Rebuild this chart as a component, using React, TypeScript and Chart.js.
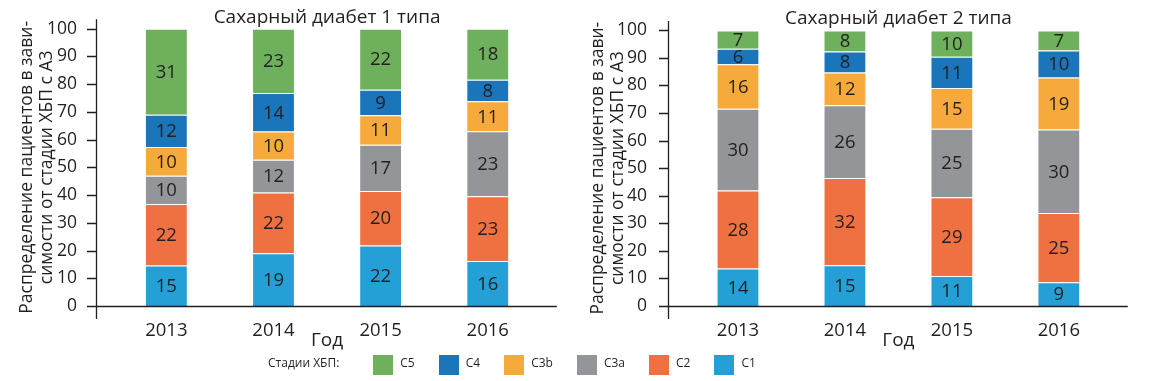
import React, { useEffect, useRef } from 'react';
import { Chart, registerables } from 'chart.js';

Chart.register(...registerables);

// ---------- data ----------
const years = ['2013', '2014', '2015', '2016'];
const stages = ['C1', 'C2', 'C3a', 'C3b', 'C4', 'C5'];
const stageColors = ['#24A0D6', '#EF7142', '#939598', '#F6AA3B', '#1B75BB', '#6EB05B'];

const title1 = 'Сахарный диабет 1 типа';
const title2 = 'Сахарный диабет 2 типа';
const yTitle = ['Распределение пациентов в зави-', 'симости от стадии ХБП с А3'];
const xTitle = 'Год';
const legendTitle = 'Стадии ХБП:';

// Type 1 diabetes, share (%) per stage, bottom to top
const t1C1 = [14.6, 19.0, 21.8, 16.2];
const t1C2 = [22.2, 21.9, 19.7, 23.4];
const t1C3a = [10.2, 11.8, 16.6, 23.4];
const t1C3b = [10.3, 10.2, 10.7, 10.8];
const t1C4 = [11.7, 13.9, 9.2, 7.8];
const t1C5 = [31.0, 23.2, 22.0, 18.4];

// Type 2 diabetes
const t2C1 = [13.6, 14.8, 10.9, 8.6];
const t2C2 = [28.3, 31.6, 28.6, 25.1];
const t2C3a = [29.7, 26.4, 24.8, 30.3];
const t2C3b = [16.1, 11.9, 14.8, 18.9];
const t2C4 = [5.6, 7.6, 11.3, 9.8];
const t2C5 = [6.7, 7.7, 9.6, 7.3];

const yTickValues = { min: 0, max: 100, step: 10 };

// ---------- styling ----------
const FONT = '"Open Sans", "Noto Sans", sans-serif';
const INK = '#231F20';

const axisPlugin = {
  id: 'axisLines',
  afterDatasetsDraw(chart: any) {
    const { ctx, chartArea, scales } = chart;
    const y = scales.y;
    const ax = Math.round(chartArea.left - 16.5) + 0.5;
    const by = Math.round(chartArea.bottom) + 0.5;
    ctx.save();
    ctx.strokeStyle = INK;
    ctx.lineWidth = 1.3;
    ctx.beginPath();
    ctx.moveTo(ax, chartArea.top - 9.5);
    ctx.lineTo(ax, chartArea.bottom + 13);
    ctx.moveTo(ax, by);
    ctx.lineTo(chartArea.right + 15.5, by);
    y.ticks.forEach((t: any) => {
      const py = Math.round(y.getPixelForValue(t.value)) + 0.5;
      ctx.moveTo(ax - 9.5, py);
      ctx.lineTo(ax, py);
    });
    ctx.stroke();
    ctx.restore();
  },
};

const valueLabelPlugin = {
  id: 'valueLabels',
  afterDatasetsDraw(chart: any) {
    const { ctx } = chart;
    ctx.save();
    ctx.font = `18.5px ${FONT}`;
    ctx.fillStyle = INK;
    ctx.textAlign = 'center';
    ctx.textBaseline = 'middle';
    chart.data.datasets.forEach((ds: any, i: number) => {
      const meta = chart.getDatasetMeta(i);
      meta.data.forEach((el: any, j: number) => {
        const v = ds.data[j];
        const { x, y, base } = el.getProps(['x', 'y', 'base'], true);
        ctx.fillText(String(Math.round(v)), x, (y + base) / 2 + 1);
      });
    });
    ctx.restore();
  },
};

type Geo = { yWidth: number; padRight: number; tickPad: number; yTitlePad: number };

function makeChart(canvas: HTMLCanvasElement, title: string, series: number[][], geo: Geo) {
  return new Chart(canvas, {
    type: 'bar',
    data: {
      labels: years,
      datasets: series.map((d, i) => ({
        label: stages[i],
        data: d,
        backgroundColor: stageColors[i],
        borderColor: 'rgba(255,255,255,0.35)',
        borderWidth: 1,
        barPercentage: 0.4,
        categoryPercentage: 1.0,
      })),
    },
    options: {
      responsive: false,
      animation: false,
      devicePixelRatio: 1,
      layout: { padding: { left: 0, right: geo.padRight, top: 0, bottom: 0 } },
      plugins: {
        legend: { display: false },
        tooltip: { enabled: false },
        title: {
          display: true,
          text: title,
          fullSize: false,
          color: INK,
          font: { family: FONT, size: 19, weight: 'normal', lineHeight: 1.2 },
          padding: { top: 5, bottom: 0 },
        },
      },
      scales: {
        x: {
          stacked: true,
          grid: { display: false },
          border: { display: false },
          ticks: { color: INK, font: { family: FONT, size: 18.5, lineHeight: 1.2 }, padding: 5.5 },
          title: {
            display: true,
            text: xTitle,
            color: INK,
            font: { family: FONT, size: 19, lineHeight: 1.2 },
            padding: { top: 0, bottom: 7.6 },
          },
          afterFit: (s: any) => {
            s.height = 54;
          },
        },
        y: {
          stacked: true,
          min: yTickValues.min,
          max: yTickValues.max,
          grid: { display: false },
          border: { display: false },
          ticks: {
            stepSize: yTickValues.step,
            color: INK,
            font: { family: FONT, size: 17.5, lineHeight: 0.1 },
            padding: geo.tickPad,
          },
          title: {
            display: true,
            text: yTitle,
            color: INK,
            font: { family: FONT, size: 17.5, lineHeight: 20 / 17.5 },
            padding: { top: geo.yTitlePad, bottom: 0 },
          },
          afterFit: (s: any) => {
            s.width = geo.yWidth;
          },
        },
      },
    },
    plugins: [axisPlugin, valueLabelPlugin],
  } as any);
}

export default function App() {
  const ref1 = useRef<HTMLCanvasElement>(null);
  const ref2 = useRef<HTMLCanvasElement>(null);

  useEffect(() => {
    const c1 = makeChart(ref1.current!, title1, [t1C1, t1C2, t1C3a, t1C3b, t1C4, t1C5], {
      yWidth: 112.8,
      padRight: 33.7,
      tickPad: 27.8,
      yTitlePad: 17.5,
    });
    const c2 = makeChart(ref2.current!, title2, [t2C1, t2C2, t2C3a, t2C3b, t2C4, t2C5], {
      yWidth: 109.5,
      padRight: 63.7,
      tickPad: 29.5,
      yTitlePad: 12.8,
    });
    return () => {
      c1.destroy();
      c2.destroy();
    };
  }, []);

  const legendOrder = [5, 4, 3, 2, 1, 0];

  return (
    <div
      style={{
        position: 'fixed',
        left: 0,
        top: 0,
        width: 1176,
        height: 381,
        background: '#fff',
        overflow: 'hidden',
      }}
    >
      <canvas ref={ref1} width={575} height={360} style={{ position: 'absolute', left: 0, top: 0 }} />
      <canvas ref={ref2} width={601} height={360} style={{ position: 'absolute', left: 575, top: 0 }} />
      <div
        style={{
          position: 'absolute',
          left: 268,
          top: 355,
          height: 20,
          display: 'flex',
          alignItems: 'center',
          fontFamily: FONT,
          fontSize: 12,
          color: INK,
          whiteSpace: 'nowrap',
        }}
      >
        <span style={{ marginRight: 34, transform: 'translateY(-3px)' }}>{legendTitle}</span>
        {legendOrder.map((i) => (
          <div key={stages[i]} style={{ display: 'flex', alignItems: 'center', marginRight: 24 }}>
            <span style={{ width: 20, height: 20, background: stageColors[i], marginRight: 7, display: 'inline-block' }} />
            <span style={{ transform: 'translateY(-3px)' }}>{stages[i]}</span>
          </div>
        ))}
      </div>
    </div>
  );
}
